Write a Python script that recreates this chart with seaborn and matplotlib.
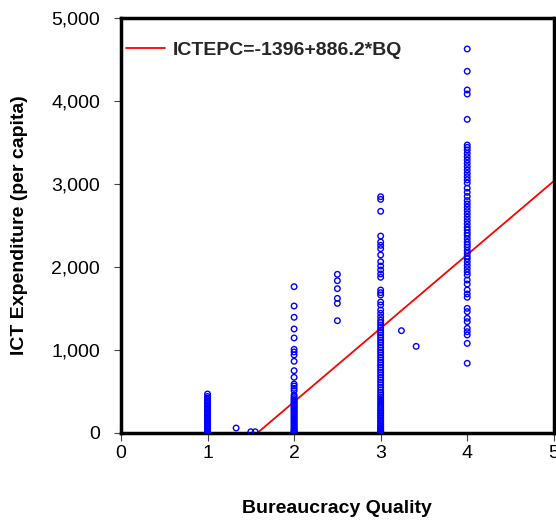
import numpy as np
import pandas as pd
import matplotlib
matplotlib.use("Agg")
import matplotlib.pyplot as plt
import seaborn as sns
from matplotlib.ticker import FuncFormatter

# Bureaucracy quality groups and ICT expenditure per capita
bq_1 = [0, 5, 10, 15, 20, 30, 40, 50, 60, 75, 85, 100, 110, 125, 140, 150, 165, 180,
        195, 210, 225, 240, 255, 270, 285, 300, 320, 340, 360, 380, 400, 420, 440, 470]
bq_2 = [0, 5, 10, 20, 30, 40, 55, 70, 85, 100, 115, 130, 145, 160, 175, 190, 205, 220,
        235, 250, 265, 280, 295, 310, 325, 340, 355, 370, 385, 400, 415, 437, 458, 510,
        538, 566, 590, 671, 751, 864, 940, 976, 1008, 1145, 1253, 1394, 1530, 1763]
bq_3 = [0, 10, 20, 35, 50, 65, 80, 100, 120, 140, 160, 180, 200, 220, 240, 260, 285,
        310, 335, 360, 385, 410, 435, 460, 490, 520, 550, 580, 610, 640, 670, 700, 730,
        760, 790, 820, 850, 880, 910, 940, 970, 1000, 1030, 1060, 1090, 1120, 1150,
        1180, 1210, 1240, 1270, 1300, 1330, 1360, 1400, 1442, 1482, 1542, 1578, 1663,
        1691, 1723, 1876, 1916, 1964, 2012, 2064, 2145, 2221, 2261, 2301, 2373, 2671,
        2815, 2847]
bq_4 = [840, 1080, 1181, 1220, 1261, 1341, 1382, 1462, 1502, 1635, 1675, 1723, 1795,
        1843, 1904, 1940, 1980, 2020, 2060, 2100, 2130, 2165, 2200, 2240, 2270, 2300,
        2340, 2380, 2410, 2446, 2480, 2520, 2560, 2600, 2640, 2680, 2720, 2760, 2800,
        2850, 2900, 2950, 3012, 3050, 3088, 3128, 3169, 3209, 3249, 3289, 3329, 3369,
        3410, 3442, 3470, 3779, 4084, 4133, 4358, 4627]
other_bq = [1.33, 1.5, 1.55, 2.5, 2.5, 2.5, 2.5, 2.5, 2.5, 3.24, 3.41]
other_ictepc = [60, 15, 15, 1912, 1835, 1739, 1622, 1562, 1353, 1233, 1044]

# Fitted regression coefficients
intercept = -1396
slope = 886.2

bq = [1] * len(bq_1) + [2] * len(bq_2) + [3] * len(bq_3) + [4] * len(bq_4) + other_bq
ictepc = bq_1 + bq_2 + bq_3 + bq_4 + other_ictepc
df = pd.DataFrame({"BQ": bq, "ICTEPC": ictepc})

sns.set_style("ticks")
plt.rcParams["font.family"] = ["Liberation Sans", "DejaVu Sans"]

fig = plt.figure(figsize=(5.56, 5.22), dpi=100)
ax = fig.add_axes([0.2176, 0.1705, 0.7784, 0.795])

sns.scatterplot(data=df, x="BQ", y="ICTEPC", ax=ax, marker="o", s=16,
                facecolors="none", edgecolors="#0000ff", linewidth=1, zorder=3)

line_x = np.linspace(0, 5, 200)
line_df = pd.DataFrame({"BQ": line_x, "fit": intercept + slope * line_x})
sns.lineplot(data=line_df, x="BQ", y="fit", ax=ax, color="#ff0000", linewidth=1.3,
             label="ICTEPC=-1396+886.2*BQ", zorder=2)

ax.set_xlim(0, 5)
ax.set_ylim(0, 5000)
ax.set_xticks([0, 1, 2, 3, 4, 5])
ax.set_yticks([0, 1000, 2000, 3000, 4000, 5000])
ax.yaxis.set_major_formatter(FuncFormatter(lambda v, p: f"{int(v):,}"))
ax.tick_params(axis="y", labelsize=14, length=5, width=0.8, direction="out",
               color="#444444", labelcolor="black", pad=10)
ax.tick_params(axis="x", labelsize=14, length=6, width=0.8, direction="out",
               color="#444444", labelcolor="black", pad=3)

for s in ax.spines.values():
    s.set_visible(True)
    s.set_linewidth(2.5)
    s.set_color("black")

ax.set_xlabel("Bureaucracy Quality", fontsize=14, fontweight="bold", labelpad=27,
              color="black")
ax.set_ylabel("ICT Expenditure (per capita)", fontsize=14, fontweight="bold",
              labelpad=17, color="black")

leg = ax.legend(loc="upper left", bbox_to_anchor=(0.012, 0.943), frameon=False,
                handlelength=2.0, handletextpad=0.4, fontsize=14,
                borderaxespad=0, borderpad=0)
for t in leg.get_texts():
    t.set_fontweight("bold")

fig.savefig("out.png", dpi=100)
